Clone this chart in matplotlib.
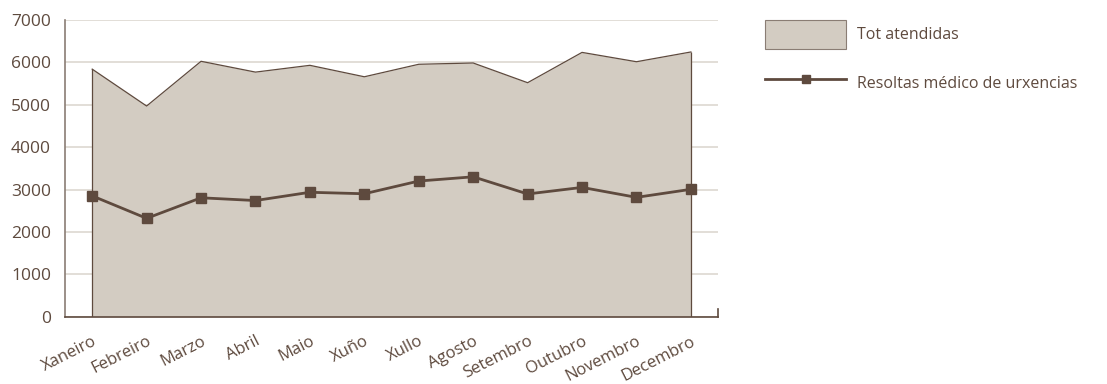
import numpy as np
import matplotlib.pyplot as plt
from matplotlib.patches import Patch
from matplotlib.lines import Line2D

plt.rcParams['font.family'] = ['Open Sans', 'DejaVu Sans']

meses = ["Xaneiro", "Febreiro", "Marzo", "Abril", "Maio", "Xuño",
         "Xullo", "Agosto", "Setembro", "Outubro", "Novembro", "Decembro"]
tot_atendidas = [5840, 4970, 6025, 5770, 5930, 5660, 5955, 5985, 5520, 6235, 6015, 6245]
resoltas_medico = [2850, 2320, 2805, 2740, 2935, 2900, 3200, 3300, 2895, 3050, 2815, 3005]

fill_col = "#d3ccc2"
dark = "#5e4a3e"
grid_col = "#ddd8d1"

fig = plt.figure(figsize=(11.07, 3.84), dpi=100)
ax = fig.add_axes([0.0587, 0.1753, 0.59, 0.7727])

x = np.arange(len(meses))
ax.fill_between(x, tot_atendidas, 0, color=fill_col, zorder=2, lw=0)
ax.plot(x, tot_atendidas, color=dark, lw=0.9, zorder=3)
ax.vlines([x[0], x[-1]], 0, [tot_atendidas[0], tot_atendidas[-1]], color=dark, lw=0.9, zorder=3)
ax.plot(x, resoltas_medico, color=dark, lw=2.0, marker="s", ms=6.5, zorder=4)

ax.set_xlim(-0.5, len(meses) - 0.5)
ax.set_ylim(0, 7000)
ax.set_yticks(range(0, 7001, 1000))
ax.yaxis.grid(True, color=grid_col, lw=1.2, zorder=0)
ax.set_axisbelow(True)
ax.tick_params(axis="y", length=0, pad=10, labelsize=12.5, labelcolor=dark)
ax.tick_params(axis="x", length=0, pad=12, labelsize=12, labelcolor=dark)
ax.set_xticks(x)
ax.set_xticklabels(meses, rotation=27, ha="right", rotation_mode="anchor")

ax.spines["top"].set_visible(False)
ax.spines["right"].set_visible(False)
ax.spines["left"].set_color("#8a7d74")
ax.spines["left"].set_linewidth(1.2)
ax.spines["bottom"].set_color(dark)
ax.spines["bottom"].set_linewidth(1.2)
ax.plot([1, 1], [0, 0.025], transform=ax.transAxes, color=dark, lw=1.2, clip_on=False)

handles = [Patch(facecolor=fill_col, edgecolor="#8a7d74", lw=0.8, label="Tot atendidas"),
           Line2D([], [], color=dark, lw=2.0, marker="s", ms=5.5, label="Resoltas médico de urxencias")]
leg = fig.legend(handles=handles, loc="upper left", bbox_to_anchor=(0.6853, 0.9646),
                 frameon=False, fontsize=11.5, handlelength=5.1, handleheight=2.4,
                 labelspacing=1.27, handletextpad=0.65, borderaxespad=0)
for t in leg.get_texts():
    t.set_color(dark)

fig.savefig("out.png", dpi=100)
